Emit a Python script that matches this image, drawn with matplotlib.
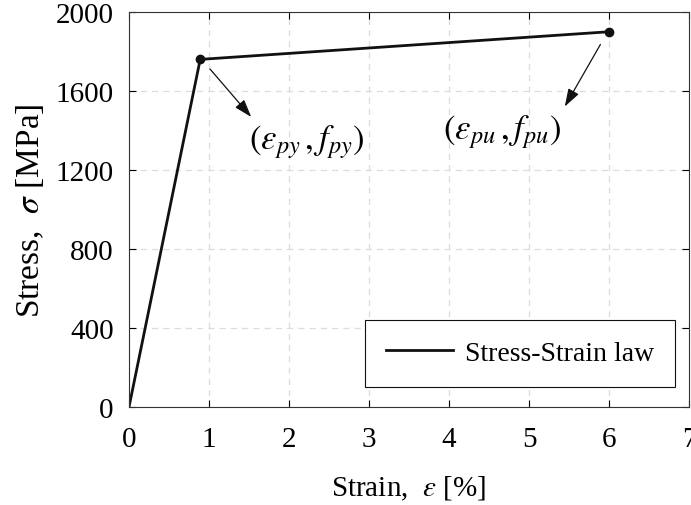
import matplotlib
matplotlib.use("Agg")
import matplotlib.pyplot as plt

# === DATA ===
strain = [0.0, 0.89, 6.0]        # [%]
stress = [0.0, 1760.0, 1900.0]   # [MPa]
x_ticks = [0, 1, 2, 3, 4, 5, 6, 7]
y_ticks = [0, 400, 800, 1200, 1600, 2000]

plt.rcParams['font.family'] = ['Liberation Serif', 'DejaVu Serif']
plt.rcParams['mathtext.fontset'] = 'stix'
plt.rcParams['font.size'] = 21

fig = plt.figure(figsize=(6.91, 5.06), dpi=100)
ax = fig.add_axes([129 / 691, 1 - 408 / 506, 560 / 691, 395 / 506])

ax.plot(strain, stress, color='#111111', lw=2.0, label='Stress-Strain law')
ax.plot(strain[1:], stress[1:], 'o', color='#111111', ms=6)

# annotations
ax.annotate('', xy=(1.55, 1458), xytext=(0.99, 1722),
            arrowprops=dict(arrowstyle='-|>,head_length=0.6,head_width=0.2',
                            color='#111111', lw=0.9, mutation_scale=18))
ax.text(1.5, 1345, r'$(\varepsilon_{py}\,, f_{py})$', fontsize=25,
        ha='left', va='center')
ax.annotate('', xy=(5.43, 1509), xytext=(5.91, 1848),
            arrowprops=dict(arrowstyle='-|>,head_length=0.6,head_width=0.2',
                            color='#111111', lw=0.9, mutation_scale=18))
ax.text(3.93, 1395, r'$(\varepsilon_{pu}\,, f_{pu})$', fontsize=25,
        ha='left', va='center')

ax.set_xlim(0, 7)
ax.set_ylim(0, 2000)
ax.set_xticks(x_ticks)
ax.set_yticks(y_ticks)
ax.tick_params(direction='in', top=True, right=True, length=5, width=0.8)
ax.tick_params(axis='x', pad=14)
ax.tick_params(axis='y', pad=11)
ax.grid(True, linestyle=(0, (5, 4)), color='#dcdcdc', lw=0.9)
for s in ax.spines.values():
    s.set_linewidth(0.8)
    s.set_color('#333333')

ax.set_xlabel(r'Strain,  $\varepsilon$ [%]', fontsize=21, labelpad=15)
ax.set_ylabel(r'Stress,  $\sigma$ [MPa]', fontsize=24, labelpad=7)

leg = ax.legend(loc='lower right', fontsize=20, frameon=True,
                fancybox=False, handlelength=2.4, handletextpad=0.45,
                borderpad=0.75, borderaxespad=0)
leg.set_bbox_to_anchor((368 / 691, (506 - 388) / 506, 307 / 691, 75 / 506),
                       transform=fig.transFigure)
leg.get_frame().set_edgecolor('#111111')
leg.get_frame().set_linewidth(0.8)
leg.get_frame().set_alpha(1)

fig.savefig('out.png', dpi=100)
